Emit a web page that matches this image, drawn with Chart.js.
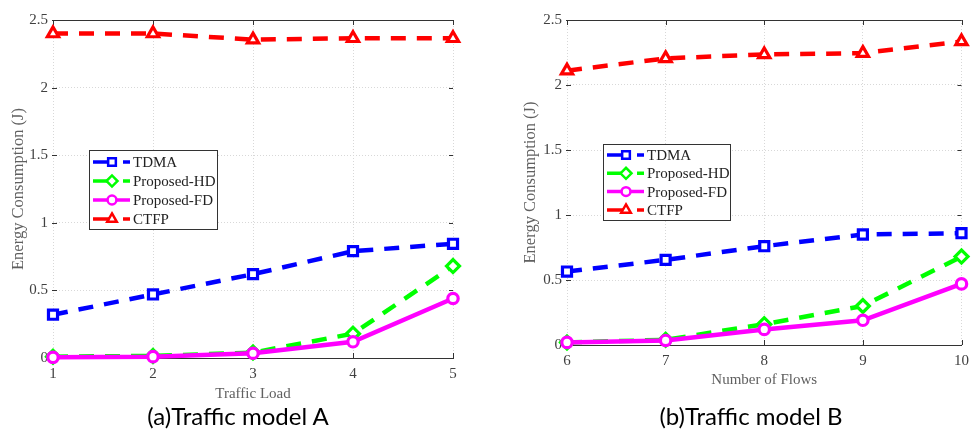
<!DOCTYPE html>
<html><head><meta charset="utf-8">
<script src="https://cdn.jsdelivr.net/npm/chart.js@4.4.0/dist/chart.umd.min.js"></script>
<style>
html,body{margin:0;padding:0;background:#fff;width:976px;height:431px;overflow:hidden;}
#wrapA{position:absolute;left:0;top:0;width:480px;height:404px;}
#wrapB{position:absolute;left:488px;top:0;width:488px;height:389px;}
.cap{position:absolute;font-family:Lato,'Open Sans',sans-serif;font-size:24px;line-height:24px;color:#000;white-space:nowrap;transform:translateX(-50%);}
</style></head><body>
<div id="wrapA"><canvas id="cA" width="480" height="404"></canvas></div>
<div id="wrapB"><canvas id="cB" width="488" height="389"></canvas></div>
<div class="cap" style="left:238px;top:404px">(a)Traffic model A</div>
<div class="cap" style="left:751px;top:404px">(b)Traffic model B</div>
<script>
// ---- data ----
const seriesNames = ['TDMA', 'Proposed-HD', 'Proposed-FD', 'CTFP'];
const trafficLoad = [1, 2, 3, 4, 5];
const tdmaA = [0.32, 0.47, 0.62, 0.79, 0.845];
const hdA   = [0.01, 0.015, 0.04, 0.18, 0.68];
const fdA   = [0.005, 0.01, 0.035, 0.12, 0.44];
const ctfpA = [2.40, 2.40, 2.355, 2.365, 2.365];
const numFlows = [6, 7, 8, 9, 10];
const tdmaB = [0.565, 0.655, 0.76, 0.85, 0.86];
const hdB   = [0.02, 0.04, 0.16, 0.30, 0.68];
const fdB   = [0.02, 0.035, 0.12, 0.19, 0.47];
const ctfpB = [2.11, 2.205, 2.235, 2.245, 2.335];
const yTickLabels = ['0', '0.5', '1', '1.5', '2', '2.5'];
const yAxisTitle = 'Energy Consumption (J)';
const xTitleA = 'Traffic Load';
const xTitleB = 'Number of Flows';

// ---- styles ----
const styles = [
  {color: '#0000ff', dash: [15, 11], point: 'rect', r: 6.4, order: 2},
  {color: '#00ff00', dash: [15, 11], point: 'rectRot', r: 6.5, order: 1},
  {color: '#ff00ff', dash: [], point: 'circle', r: 5.2, order: 0},
  {color: '#ff0000', dash: [15, 11], point: 'triangle', r: 6.5, order: 3}
];
const SERIF = "'Liberation Serif','DejaVu Serif',serif";

function makeDatasets(xs, seriesList) {
  return seriesList.map((vals, i) => ({
    label: seriesNames[i],
    data: xs.map((x, k) => ({x: x, y: vals[k]})),
    borderColor: styles[i].color,
    backgroundColor: styles[i].color,
    borderWidth: 4.5,
    borderDash: styles[i].dash,
    pointStyle: styles[i].point,
    pointRadius: styles[i].r,
    pointBorderWidth: 3.2,
    pointBackgroundColor: '#ffffff',
    pointBorderColor: styles[i].color,
    order: styles[i].order,
    tension: 0,
    clip: false
  }));
}

function drawMarker(ctx, style, x, y, r) {
  ctx.beginPath();
  if (style === 'rect') {
    const s = Math.SQRT1_2 * r; ctx.rect(x - s, y - s, 2 * s, 2 * s);
  } else if (style === 'rectRot') {
    ctx.moveTo(x - r, y); ctx.lineTo(x, y - r); ctx.lineTo(x + r, y); ctx.lineTo(x, y + r); ctx.closePath();
  } else if (style === 'circle') {
    ctx.arc(x, y, r, 0, Math.PI * 2);
  } else if (style === 'triangle') {
    for (let k = 0; k < 3; k++) {
      const a = k * 2 * Math.PI / 3;
      const px = x + Math.sin(a) * r, py = y - Math.cos(a) * r;
      if (k === 0) ctx.moveTo(px, py); else ctx.lineTo(px, py);
    }
    ctx.closePath();
  }
  ctx.fillStyle = '#fff'; ctx.fill(); ctx.stroke();
}

const framePlugin = {
  id: 'frameTicks',
  beforeDatasetsDraw(chart) {
    const ctx = chart.ctx, a = chart.chartArea;
    const xs = chart.scales.x, ys = chart.scales.y;
    ctx.save();
    ctx.strokeStyle = '#333'; ctx.lineWidth = 1; ctx.setLineDash([]);
    ctx.beginPath();
    ctx.moveTo(a.left, a.top + 0.5); ctx.lineTo(a.right, a.top + 0.5);
    xs.ticks.forEach(t => {
      const px = Math.round(xs.getPixelForValue(t.value)) + 0.5;
      ctx.moveTo(px, a.top); ctx.lineTo(px, a.top + 5);
      ctx.moveTo(px, a.bottom); ctx.lineTo(px, a.bottom - 5);
    });
    ys.ticks.forEach(t => {
      const py = Math.round(ys.getPixelForValue(t.value)) + 0.5;
      ctx.moveTo(a.left - 1, py); ctx.lineTo(a.left + 4, py);
      ctx.moveTo(a.right, py); ctx.lineTo(a.right - 4, py);
    });
    ctx.stroke();
    ctx.restore();
  }
};

const legendPlugin = {
  id: 'legendBox',
  afterDatasetsDraw(chart, args, opts) {
    const ctx = chart.ctx, a = chart.chartArea;
    const x0 = Math.round(a.left + opts.dx), y0 = opts.top;
    ctx.save();
    ctx.fillStyle = '#fff'; ctx.fillRect(x0, y0, opts.w, opts.h);
    ctx.strokeStyle = '#333'; ctx.lineWidth = 1; ctx.setLineDash([]);
    ctx.strokeRect(x0 + 0.5, y0 + 0.5, opts.w, opts.h);
    chart.data.datasets.forEach((ds, i) => {
      const cy = y0 + opts.first + i * opts.row;
      const lx = x0 + 4;
      ctx.strokeStyle = ds.borderColor; ctx.lineWidth = 3.5; ctx.setLineDash([]);
      ctx.beginPath();
      ctx.moveTo(lx, cy); ctx.lineTo(lx + 17, cy);
      if (ds.borderDash && ds.borderDash.length) { ctx.moveTo(lx + 30, cy); ctx.lineTo(lx + 37, cy); }
      else { ctx.moveTo(lx + 21, cy); ctx.lineTo(lx + 37, cy); }
      ctx.stroke();
      ctx.lineWidth = 2.5;
      drawMarker(ctx, ds.pointStyle, lx + 19, cy, ds.pointRadius * 0.85);
      ctx.fillStyle = '#222'; ctx.font = '15px ' + SERIF;
      ctx.textBaseline = 'middle'; ctx.textAlign = 'left';
      ctx.fillText(ds.label, lx + 40, cy + 1);
    });
    ctx.restore();
  }
};

function makeChart(id, xs, seriesList, xTitle, cfg) {
  return new Chart(document.getElementById(id), {
    type: 'line',
    data: {datasets: makeDatasets(xs, seriesList)},
    plugins: [framePlugin, legendPlugin],
    options: {
      responsive: false, animation: false, devicePixelRatio: 1, events: [],
      layout: {padding: cfg.padding},
      plugins: {legend: {display: false}, tooltip: {enabled: false}, legendBox: cfg.legend},
      scales: {
        x: {
          type: 'linear', min: xs[0], max: xs[xs.length - 1],
          afterFit: s => { s.height = cfg.xHeight; },
          ticks: {stepSize: 1, color: '#404040', font: {family: SERIF, size: 15}, padding: 7, maxRotation: 0},
          grid: {color: '#d8d8d8', drawTicks: false, lineWidth: 1},
          border: {display: true, color: '#333', width: 1, dash: [1, 2]},
          title: {display: true, text: xTitle, color: '#606060', font: {family: SERIF, size: 15}, padding: {top: 0, bottom: cfg.xTitlePad}}
        },
        y: {
          min: 0, max: 2.5,
          afterFit: s => { s.width = cfg.yWidth; },
          ticks: {stepSize: 0.5, color: '#404040', font: {family: SERIF, size: 15}, padding: 5,
                  callback: (v, i) => yTickLabels[i]},
          grid: {color: '#d8d8d8', drawTicks: false, lineWidth: 1},
          border: {display: false, dash: [1, 2]},
          title: {display: true, text: yAxisTitle, color: '#606060', font: {family: SERIF, size: 16.5}, padding: {top: 9, bottom: 0}}
        }
      }
    }
  });
}

makeChart('cA', trafficLoad, [tdmaA, hdA, fdA, ctfpA], xTitleA, {
  padding: {left: 0, top: 20, right: 27, bottom: 0},
  xHeight: 46, yWidth: 53, xTitlePad: 1,
  legend: {dx: 36, top: 150, w: 128, h: 79, first: 12, row: 19}
});
makeChart('cB', numFlows, [tdmaB, hdB, fdB, ctfpB], xTitleB, {
  padding: {left: 24, top: 20, right: 13, bottom: 0},
  xHeight: 44, yWidth: 55, xTitlePad: 0,
  legend: {dx: 36, top: 144, w: 127, h: 76, first: 11, row: 18.3}
});
</script>
</body></html>
